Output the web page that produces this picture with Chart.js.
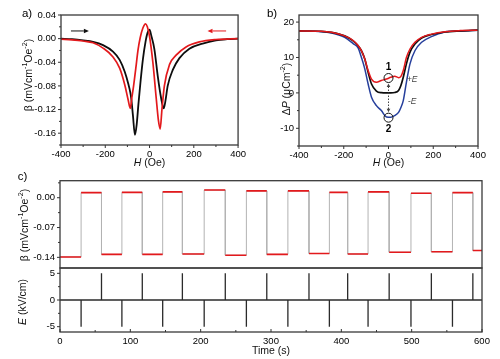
<!DOCTYPE html>
<html><head><meta charset="utf-8">
<script src="https://cdn.jsdelivr.net/npm/chart.js@4.4.1/dist/chart.umd.min.js"></script>
<style>
html,body{margin:0;padding:0;background:#fff;}
#wrap{position:relative;width:500px;height:359px;overflow:hidden;background:#fff;}
canvas{position:absolute;}
</style></head><body>
<div id="wrap">
<canvas id="ca" width="250" height="172" style="left:0;top:0"></canvas>
<canvas id="cb" width="250" height="172" style="left:250px;top:0"></canvas>
<canvas id="cc1" width="500" height="112" style="left:0;top:170px"></canvas>
<canvas id="cc2" width="500" height="109" style="left:0;top:250px"></canvas>
</div>
<script>
// ---------- Panel a data: beta vs H ----------
const aHBlack = [-400,-350,-300,-255,-210,-165,-135,-112,-97,-87,-82,-75,-66,-58,-50,-40,-30,-18,-8,0,8,22,37,52,64,72,82,105,135,180,240,300,350,400];
const aBBlack = [0,-0.001,-0.003,-0.0055,-0.011,-0.022,-0.036,-0.056,-0.075,-0.091,-0.103,-0.13,-0.163,-0.145,-0.11,-0.07,-0.035,-0.005,0.011,0.015,0.005,-0.018,-0.063,-0.10,-0.118,-0.105,-0.08,-0.053,-0.033,-0.017,-0.0083,-0.003,-0.001,0];
const aHRed = [-400,-350,-300,-255,-210,-165,-135,-112,-97,-87,-80,-72,-62,-52,-42,-30,-18,-10,0,15,30,40,48,56,67,90,120,165,225,300,400];
const aBRed = [-0.001,-0.002,-0.004,-0.007,-0.016,-0.031,-0.05,-0.078,-0.103,-0.118,-0.1,-0.08,-0.05,-0.019,0.002,0.018,0.025,0.02,0.004,-0.04,-0.10,-0.138,-0.153,-0.12,-0.08,-0.044,-0.028,-0.014,-0.0055,-0.0015,0];
const aXTicks = [-400,-200,0,200,400];
const aXMinor = [-300,-100,100,300];
const aYTicks = [-0.16,-0.12,-0.08,-0.04,0,0.04];
const aYMinor = [-0.18,-0.14,-0.10,-0.06,-0.02,0.02];
const aArrowBlack = [[-355,0.013],[-274,0.013]];
const aArrowRed = [[346,0.013],[262,0.013]];

// ---------- Panel b data: dP vs H ----------
const bH = [-400,-300,-255,-196,-158,-136,-121,-106,-91,-76,-54,-32,-9,10,28,45,55,66,80,96,118,148,192,252,320,400];
const bBlack = [17.5,17.4,17.1,16.1,14.7,13.3,11.9,9.6,5.8,2.5,0.5,0.05,0,0,0.1,0.7,2.0,4.4,8.2,11.5,13.8,15.5,16.5,17.2,17.5,17.7];
const bRed = [17.5,17.4,17.1,16.1,14.8,13.4,11.9,9.6,6.3,3.9,3.0,3.5,3.9,4.4,4.7,4.3,4.6,6.3,10,12.4,14.3,15.7,16.6,17.3,17.6,17.7];
const bBlue = [17.5,17.3,16.9,15.7,13.9,12.7,10,6.8,2.5,-1.2,-3.6,-5,-6.8,-6.9,-6.4,-5.5,-4.2,-2.2,3.0,8.2,11.9,14.3,15.9,17.2,17.5,17.7];
const bXTicks = [-400,-200,0,200,400];
const bXMinor = [-300,-100,100,300];
const bYTicks = [-10,0,10,20];
const bYMinor = [-15,-5,5,15];
const bState1 = [0,4.2];
const bState2 = [0,-7];
const bPlusE = [106,3.7];
const bMinusE = [106,-2.5];

// ---------- Panel c data: beta and E vs time ----------
const cUpT = [30,88,146,205,265,324,383,438,499,558];     // negative E pulse -> beta high
const cDownT = [59,117,174,235,294,354,409,468,528,587];  // positive E pulse -> beta low
const cHigh = [0.012,0.0125,0.0137,0.018,0.016,0.016,0.0125,0.0137,0.0106,0.012];
const cLow = [-0.139,-0.133,-0.133,-0.132,-0.135,-0.133,-0.131,-0.132,-0.128,-0.127,-0.124];
const cPulse = 5;
const cXTicks = [0,100,200,300,400,500,600];
const cXMinor = [50,150,250,350,450,550];
const c1YTicks = [-0.14,-0.07,0];
const c1YMinor = [-0.105,-0.035,0.035];
const c2YTicks = [-5,0,5];
const c2YMinor = [-2.5,2.5];

// ---------- helpers ----------
const FONT = '"Liberation Sans", Arial, Helvetica, sans-serif';
Chart.defaults.font.family = FONT;
Chart.defaults.color = '#000';
Chart.defaults.animation = false;

function pts(xs, ys){ return xs.map((x,i)=>({x:x, y:ys[i]})); }

function drawRich(ctx, segs, x, y, size, rot){
  ctx.save();
  ctx.translate(x,y);
  if (rot) ctx.rotate(-Math.PI/2);
  let total = 0;
  const parts = segs.map(s=>{
    const sz = s.sup ? size*0.68 : size;
    const font = (s.i?'italic ':'') + (s.b?'bold ':'') + sz + 'px ' + FONT;
    ctx.font = font;
    const w = ctx.measureText(s.t).width;
    total += w;
    return {font:font, w:w, t:s.t, dy: s.sup ? -size*0.38 : 0};
  });
  let cx = -total/2;
  ctx.textBaseline = 'middle'; ctx.textAlign = 'left'; ctx.fillStyle = (segs[0] && segs[0].c) || '#111';
  parts.forEach(p=>{ ctx.font = p.font; ctx.fillText(p.t, cx, p.dy); cx += p.w; });
  ctx.restore();
}

function arrow(ctx, x1, y1, x2, y2, color, head){
  ctx.save();
  ctx.strokeStyle = color; ctx.fillStyle = color; ctx.lineWidth = 1;
  const ang = Math.atan2(y2-y1, x2-x1);
  ctx.beginPath(); ctx.moveTo(x1,y1); ctx.lineTo(x2 - head*Math.cos(ang), y2 - head*Math.sin(ang)); ctx.stroke();
  ctx.beginPath();
  ctx.moveTo(x2,y2);
  ctx.lineTo(x2 - head*Math.cos(ang) + head*0.45*Math.sin(ang), y2 - head*Math.sin(ang) - head*0.45*Math.cos(ang));
  ctx.lineTo(x2 - head*Math.cos(ang) - head*0.45*Math.sin(ang), y2 - head*Math.sin(ang) + head*0.45*Math.cos(ang));
  ctx.closePath(); ctx.fill();
  ctx.restore();
}

function makeFrame(cfg){
  return {
    id: 'frame',
    afterDatasetsDraw(chart){
      const ctx = chart.ctx, ca = chart.chartArea, xs = chart.scales.x, ys = chart.scales.y;
      ctx.save();
      ctx.strokeStyle = '#3a3a3a'; ctx.lineWidth = 1.3;
      ctx.strokeRect(ca.left, ca.top, ca.right-ca.left, ca.bottom-ca.top);
      ctx.lineWidth = 1; ctx.strokeStyle = '#333';
      const xd = cfg.xIn ? -1 : 1;
      const drawX = (vals, len)=>vals.forEach(v=>{ const p = xs.getPixelForValue(v); ctx.beginPath(); ctx.moveTo(p, ca.bottom); ctx.lineTo(p, ca.bottom + xd*len); ctx.stroke(); });
      const drawY = (vals, len)=>vals.forEach(v=>{ const p = ys.getPixelForValue(v); ctx.beginPath(); ctx.moveTo(ca.left, p); ctx.lineTo(ca.left - len, p); ctx.stroke(); });
      if (cfg.xMajor) drawX(cfg.xMajor, 3);
      if (cfg.xMinor) drawX(cfg.xMinor, 2);
      if (cfg.yMajor) drawY(cfg.yMajor, 3);
      if (cfg.yMinor) drawY(cfg.yMinor, 2);
      ctx.restore();
    },
    afterDraw(chart){
      const ctx = chart.ctx, ca = chart.chartArea;
      if (cfg.yTitle) drawRich(ctx, cfg.yTitle, cfg.yTitleX, cfg.yTitleY, 10.5, true);
      if (cfg.xTitle) drawRich(ctx, cfg.xTitle, (ca.left+ca.right)/2, cfg.xTitleY, 10.5, false);
      if (cfg.label){ drawRich(ctx, [{t:cfg.label.t, c:'#000'}], cfg.label.x, cfg.label.y, 11.5, false); }
      if (cfg.extra) cfg.extra(chart);
    }
  };
}

function scaleX(min, max, ticks, height, show){
  const labels = new Map(ticks.map(v=>[v, String(v)]));
  return {
    type:'linear', min:min, max:max,
    afterBuildTicks: s=>{ s.ticks = ticks.map(v=>({value:v})); },
    afterFit: s=>{ s.height = height; },
    ticks:{ display: show, autoSkip:false, maxRotation:0, padding:4, font:{size:9.5}, color:'#000',
      callback: v=>labels.has(v) ? labels.get(v) : '' },
    grid:{ display:false, drawTicks:false },
    border:{ display:false }
  };
}
function scaleY(min, max, ticks, width, fmt){
  return {
    type:'linear', min:min, max:max,
    afterBuildTicks: s=>{ s.ticks = ticks.map(v=>({value:v})); },
    afterFit: s=>{ s.width = width; },
    ticks:{ autoSkip:false, padding:5, font:{size:9.5}, color:'#000', callback: v=>fmt(v) },
    grid:{ display:false, drawTicks:false },
    border:{ display:false }
  };
}
function lineDs(data, color, width, mono){
  return { data:data, borderColor:color, borderWidth:width, pointRadius:0, fill:false,
    cubicInterpolationMode: mono ? 'monotone' : 'default', tension: 0, spanGaps:false };
}
function baseOptions(pad, xs, ys){
  return { responsive:false, devicePixelRatio:1, animation:false,
    layout:{ padding: pad },
    plugins:{ legend:{display:false}, tooltip:{enabled:false} },
    scales:{ x: xs, y: ys } };
}

const RED = '#e3191c', BLACK = '#0d0d0d', BLUE = '#263f9c';
const betaTitle = [{t:'β (mVcm'},{t:'-1',sup:true},{t:'Oe'},{t:'-2',sup:true},{t:')'}];
const hTitle = [{t:'H',i:true},{t:' (Oe)'}];

// ---------- Panel a ----------
new Chart(document.getElementById('ca'), {
  type:'line',
  data:{ datasets:[ lineDs(pts(aHRed,aBRed), RED, 1.7, true), lineDs(pts(aHBlack,aBBlack), BLACK, 1.8, true) ] },
  options: baseOptions({left:0,right:11,top:15,bottom:0},
    scaleX(-400,400,aXTicks,27,true),
    scaleY(-0.18,0.04,aYTicks,61,v=>v.toFixed(2))),
  plugins:[ makeFrame({ xMajor:aXTicks, xMinor:aXMinor, yMajor:aYTicks, yMinor:aYMinor,
    yTitle:betaTitle, yTitleX:29, yTitleY:75, xTitle:hTitle, xTitleY:163,
    label:{t:'a)', x:27, y:14},
    extra(chart){
      const xs = chart.scales.x, ys = chart.scales.y, ctx = chart.ctx;
      arrow(ctx, xs.getPixelForValue(aArrowBlack[0][0]), ys.getPixelForValue(aArrowBlack[0][1]),
        xs.getPixelForValue(aArrowBlack[1][0]), ys.getPixelForValue(aArrowBlack[1][1]), '#111', 5);
      arrow(ctx, xs.getPixelForValue(aArrowRed[0][0]), ys.getPixelForValue(aArrowRed[0][1]),
        xs.getPixelForValue(aArrowRed[1][0]), ys.getPixelForValue(aArrowRed[1][1]), RED, 5);
    } }) ]
});

// ---------- Panel b ----------
new Chart(document.getElementById('cb'), {
  type:'line',
  data:{ datasets:[ lineDs(pts(bH,bRed), RED, 1.5, true), lineDs(pts(bH,bBlack), BLACK, 1.7, true), lineDs(pts(bH,bBlue), BLUE, 1.5, true) ] },
  options: baseOptions({left:0,right:22,top:15,bottom:0},
    scaleX(-400,400,bXTicks,26,true),
    scaleY(-15,22,bYTicks,49,v=>String(v))),
  plugins:[ makeFrame({ xMajor:bXTicks, xMinor:bXMinor, yMajor:bYTicks, yMinor:bYMinor,
    yTitle:[{t:'Δ'},{t:'P',i:true},{t:' (μCm'},{t:'-2',sup:true},{t:')'}], yTitleX:37, yTitleY:89,
    xTitle:hTitle, xTitleY:163,
    label:{t:'b)', x:22, y:14},
    extra(chart){
      const xs = chart.scales.x, ys = chart.scales.y, ctx = chart.ctx;
      const x1 = xs.getPixelForValue(bState1[0]), y1 = ys.getPixelForValue(bState1[1]);
      const x2 = xs.getPixelForValue(bState2[0]), y2 = ys.getPixelForValue(bState2[1]);
      const r = 4.5;
      ctx.save();
      ctx.strokeStyle = '#111'; ctx.lineWidth = 1;
      ctx.beginPath(); ctx.arc(x1,y1,r,0,Math.PI*2); ctx.stroke();
      ctx.beginPath(); ctx.arc(x2,y2,r,0,Math.PI*2); ctx.stroke();
      ctx.setLineDash([1.5,1.5]); ctx.strokeStyle = '#444';
      ctx.beginPath(); ctx.moveTo(x1, y1+r+4); ctx.lineTo(x2, y2-r-4); ctx.stroke();
      ctx.setLineDash([]); ctx.fillStyle = '#444';
      ctx.beginPath(); ctx.moveTo(x1, y1+r+1); ctx.lineTo(x1-1.8, y1+r+4.5); ctx.lineTo(x1+1.8, y1+r+4.5); ctx.closePath(); ctx.fill();
      ctx.beginPath(); ctx.moveTo(x2, y2-r-1); ctx.lineTo(x2-1.8, y2-r-4.5); ctx.lineTo(x2+1.8, y2-r-4.5); ctx.closePath(); ctx.fill();
      ctx.restore();
      drawRich(ctx, [{t:'1', b:true, c:'#000'}], x1, y1-r-6, 10, false);
      drawRich(ctx, [{t:'2', b:true, c:'#000'}], x2, y2+r+7, 10, false);
      drawRich(ctx, [{t:'+', c:'#444'},{t:'E', i:true}], xs.getPixelForValue(bPlusE[0]), ys.getPixelForValue(bPlusE[1]), 8.5, false);
      drawRich(ctx, [{t:'-', c:'#444'},{t:'E', i:true}], xs.getPixelForValue(bMinusE[0]), ys.getPixelForValue(bMinusE[1]), 8.5, false);
    } }) ]
});

// ---------- Panel c top ----------
const cGray = [{x:0, y:cLow[0]}];
cUpT.forEach((t,i)=>{
  cGray.push({x:t, y:cLow[i]}, {x:t, y:cHigh[i]}, {x:cDownT[i], y:cHigh[i]}, {x:cDownT[i], y:cLow[i+1]});
});
cGray.push({x:600, y:cLow[cLow.length-1]});
const cRed = [];
const cEdges = [0];
cUpT.forEach((t,i)=>{ cEdges.push(t, cDownT[i]); });
cEdges.push(600);
for (let k=0; k<cEdges.length-1; k++){
  const level = (k%2===0) ? cLow[k/2] : cHigh[(k-1)/2];
  cRed.push({x:cEdges[k], y:level}, {x:cEdges[k+1], y:level});
  if (k < cEdges.length-2) cRed.push({x:(cEdges[k+1]), y:null});
}

new Chart(document.getElementById('cc1'), {
  type:'line',
  data:{ datasets:[ lineDs(cRed, RED, 1.6, false), lineDs(cGray, '#b3b3b3', 1, false) ] },
  options: baseOptions({left:0,right:18,top:8,bottom:0},
    scaleX(0,600,cXTicks,14,false),
    scaleY(-0.165,0.04,c1YTicks,60,v=>v.toFixed(2))),
  plugins:[ makeFrame({ yMajor:c1YTicks, yMinor:c1YMinor,
    yTitle:betaTitle, yTitleX:25, yTitleY:55,
    label:{t:'c)', x:22.5, y:7} }) ]
});

// ---------- Panel c bottom ----------
const ePts = [{x:0, y:0}];
const events = [];
cUpT.forEach(t=>events.push([t,-cPulse]));
cDownT.forEach(t=>events.push([t,cPulse]));
events.sort((a,b)=>a[0]-b[0]);
events.forEach(e=>{ ePts.push({x:e[0],y:0},{x:e[0],y:e[1]},{x:e[0],y:0}); });
ePts.push({x:600, y:0});

new Chart(document.getElementById('cc2'), {
  type:'line',
  data:{ datasets:[ lineDs(ePts, '#2b2b2b', 1.3, false) ] },
  options: baseOptions({left:0,right:18,top:18,bottom:0},
    scaleX(0,600,cXTicks,27,true),
    scaleY(-6,6,c2YTicks,60,v=>String(v))),
  plugins:[ makeFrame({ xIn:true, xMajor:cXTicks, xMinor:cXMinor, yMajor:c2YTicks, yMinor:c2YMinor,
    yTitle:[{t:'E',i:true},{t:' (kV/cm)'}], yTitleX:23, yTitleY:52,
    xTitle:[{t:'Time (s)'}], xTitleY:101 }) ]
});
</script>
</body></html>
